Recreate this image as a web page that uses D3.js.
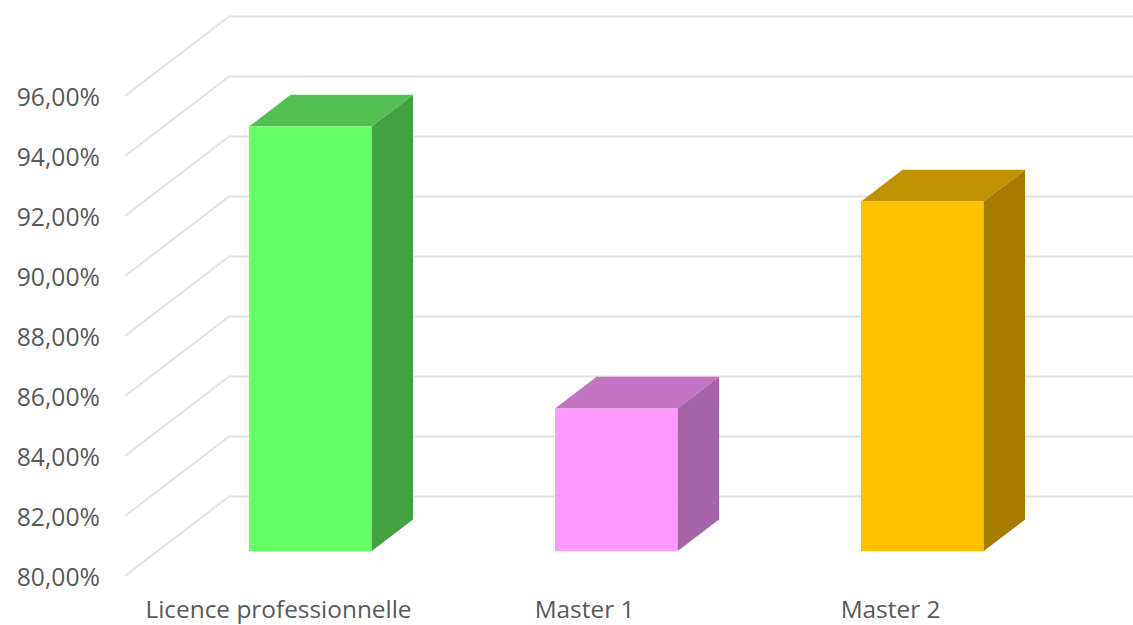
<!DOCTYPE html>
<html>
<head>
<meta charset="utf-8">
<script src="https://cdn.jsdelivr.net/npm/d3@7"></script>
<style>
  html, body { margin: 0; padding: 0; background: #fff; overflow: hidden; }
  text { font-family: "Open Sans", sans-serif; fill: #595959; }
</style>
</head>
<body>
<div id="chart"></div>
<script>
const categories = ["Licence professionnelle", "Master 1", "Master 2"];
const values = [94.16, 84.76, 91.66];
const yTicks = [80, 82, 84, 86, 88, 90, 92, 94, 96];
const frontColors = ["#66ff66", "#ff99ff", "#ffc000"];
const topColors = ["#52c152", "#c274c2", "#c19100"];
const sideColors = ["#42a242", "#a564a5", "#a57c00"];

const width = 1133, height = 625;

const svg = d3.select("#chart").append("svg")
    .attr("width", width)
    .attr("height", height)
    .style("display", "block");

const x = d3.scaleBand().domain(categories).range([125, 1043]).paddingInner(0.6).paddingOuter(0.3);
const y = d3.scaleLinear().domain([80, 96]).range([576, 96]);

// Depth shift of the 3D box, front wall to back wall
const depthX = 104, depthY = -79.5;
const barFront = 0.31, barBack = 0.71;

function project(px, value, depth) {
    return [px + depth * depthX, y(value) + depth * depthY];
}

// Gridlines: diagonal on the side wall, then flat along the back wall
const grid = svg.append("g")
    .attr("fill", "none")
    .attr("stroke", "#e1e1e1")
    .attr("stroke-width", 2);

grid.selectAll("path")
    .data(yTicks)
    .join("path")
    .attr("d", d => d3.line()([
        project(125, d, 0),
        project(125, d, 1),
        [width, y(d) + depthY]
    ]));

// Bars
const bars = svg.append("g")
    .selectAll("g")
    .data(categories)
    .join("g");

const barLine = d3.line();

bars.append("path")
    .attr("fill", (d, i) => sideColors[i])
    .attr("d", (d, i) => {
        const r = x(d) + x.bandwidth();
        return barLine([
            project(r, values[i], barFront),
            project(r, values[i], barBack),
            project(r, 80, barBack),
            project(r, 80, barFront)
        ]) + "Z";
    });

bars.append("path")
    .attr("fill", (d, i) => topColors[i])
    .attr("d", (d, i) => {
        const l = x(d), r = l + x.bandwidth();
        return barLine([
            project(l, values[i], barFront),
            project(l, values[i], barBack),
            project(r, values[i], barBack),
            project(r, values[i], barFront)
        ]) + "Z";
    });

bars.append("path")
    .attr("fill", (d, i) => frontColors[i])
    .attr("d", (d, i) => {
        const l = x(d), r = l + x.bandwidth();
        return barLine([
            project(l, values[i], barFront),
            project(r, values[i], barFront),
            project(r, 80, barFront),
            project(l, 80, barFront)
        ]) + "Z";
    });

// Axes
const yAxis = svg.append("g")
    .attr("transform", "translate(100,1.5)")
    .call(d3.axisLeft(y)
        .tickValues(yTicks)
        .tickSize(0)
        .tickPadding(0)
        .tickFormat(d => d3.format(".2f")(d).replace(".", ",") + "%"));
yAxis.select(".domain").remove();
yAxis.selectAll("text")
    .style("font-family", '"Open Sans", sans-serif')
    .style("font-size", "24.7px")
    .attr("fill", "#595959");

const xAxis = svg.append("g")
    .attr("transform", "translate(0,601)")
    .call(d3.axisBottom(d3.scalePoint().domain(categories).range([x(categories[0]) + x.bandwidth() / 2, x(categories[2]) + x.bandwidth() / 2]))
        .tickSize(0)
        .tickPadding(0));
xAxis.select(".domain").remove();
xAxis.selectAll("text")
    .style("font-family", '"Open Sans", sans-serif')
    .style("font-size", "24.4px")
    .attr("fill", "#595959");
</script>
</body>
</html>
